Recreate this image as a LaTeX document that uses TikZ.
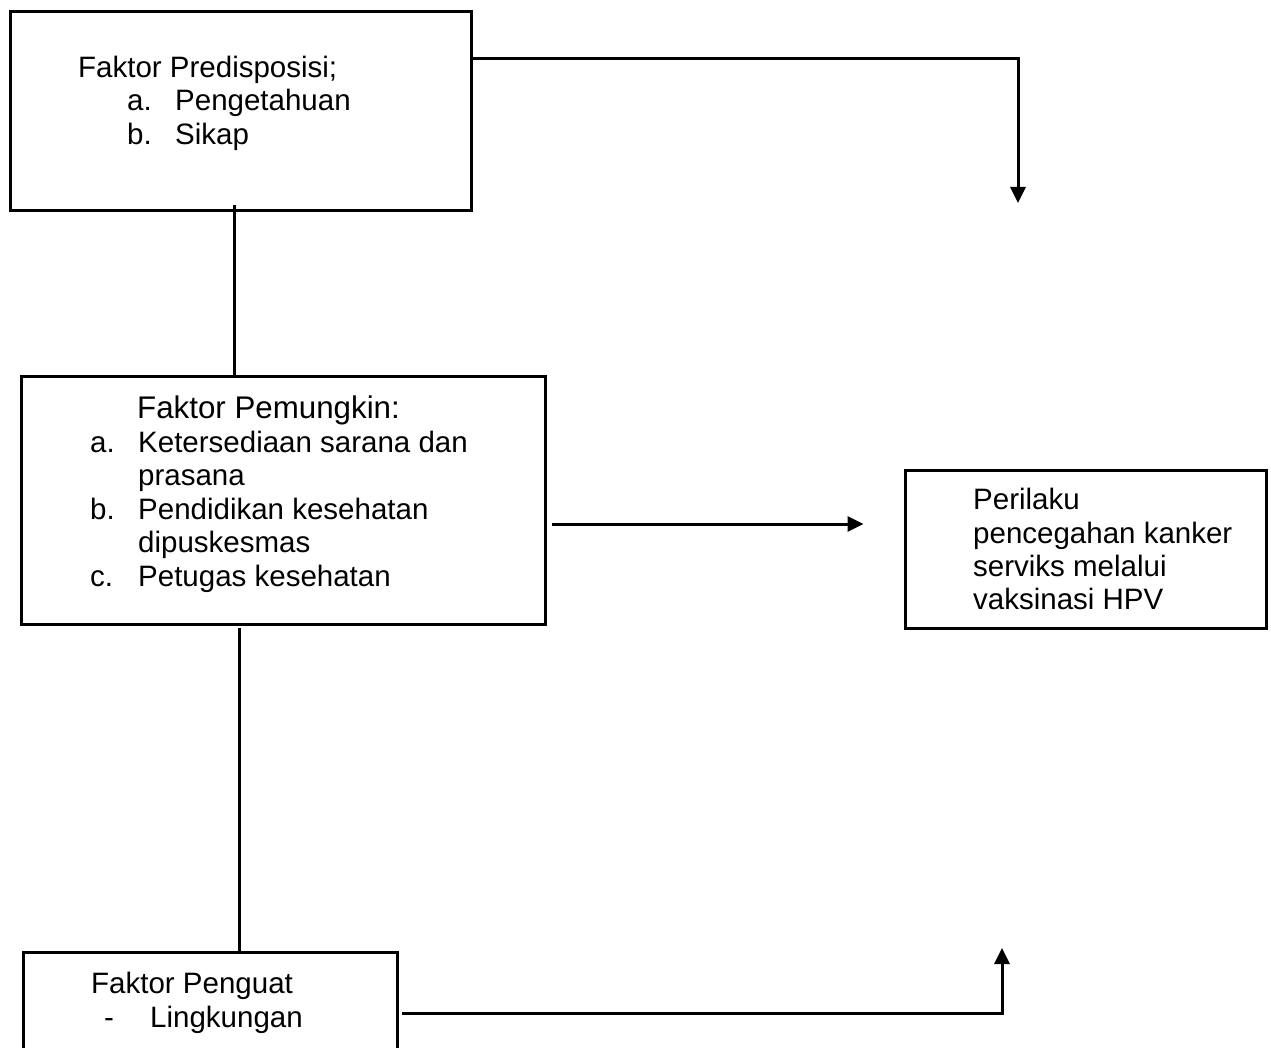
\documentclass[tikz,border=0pt]{standalone}
\usepackage{fontspec}
\setmainfont{Liberation Sans}
\usetikzlibrary{arrows.meta,calc}
\begin{document}
\begin{tikzpicture}[x=1pt,y=-1pt,
  box/.style={draw=black,line width=3pt,inner sep=0pt,minimum width=#1},
  txt/.style={inner sep=0pt,anchor=base west,font=\fontsize{29.5}{33.5}\selectfont},
  ttl/.style={inner sep=0pt,anchor=base west,font=\fontsize{31.3}{35}\selectfont},
  conn/.style={line width=3pt},
  arr/.style={line width=3pt,-{Triangle[length=16pt,width=15pt]}}]
\useasboundingbox (0,0) rectangle (1271,1048);
\clip (0,0) rectangle (1271,1048);
% boxes
\node[box=461pt,minimum height=199pt] (b1) at (240.5,111.5) {};
\node[box=524pt,minimum height=248pt] (b2) at (283,500) {};
\node[box=361pt,minimum height=158pt] (b3) at (1085.5,549.5) {};
\node[box=374pt,minimum height=130pt] (b4) at (210,1017) {};
% box 1 text
\node[txt] (t1) at (78,78) {Faktor Predisposisi;};
\node[txt] (t1a) at (127,111) {a.};
\node[txt] (t1at) at (175,111) {Pengetahuan};
\node[txt] (t1b) at (127,145) {b.};
\node[txt] (t1bt) at (175,145) {Sikap};
% box 2 text
\node[ttl] (t2) at (137,418) {Faktor Pemungkin:};
\node[txt] (t2a) at (90,452) {a.};
\node[txt] (t2at) at (138,452) {Ketersediaan sarana dan};
\node[txt] (t2at2) at (138,485) {prasana};
\node[txt] (t2b) at (90,519) {b.};
\node[txt] (t2bt) at (138,519) {Pendidikan kesehatan};
\node[txt] (t2bt2) at (138,552) {dipuskesmas};
\node[txt] (t2c) at (90,586) {c.};
\node[txt] (t2ct) at (138,586) {Petugas kesehatan};
% box 3 text
\node[txt] (t3a) at (973,509) {Perilaku};
\node[txt] (t3b) at (973,543) {pencegahan kanker};
\node[txt] (t3c) at (973,576) {serviks melalui};
\node[txt] (t3d) at (973,609) {vaksinasi HPV};
% box 4 text
\node[txt] (t4) at (91,993) {Faktor Penguat};
\node[txt] (t4a) at (104,1027) {-};
\node[txt] (t4at) at (150,1027) {Lingkungan};
% connectors
\coordinate (k1) at (1018,203);
\draw[arr] ($(b1.north east)+(0,48)$) -| (k1);
\coordinate (c1) at (234,205);
\draw[conn] (c1) -- (c1 |- b2.north);
\draw[arr] ($(b2.east)+(5,24)$) -- ($(b3.west)+(-40,-25.5)$);
\coordinate (c2) at (239,628);
\draw[conn] (c2) -- (c2 |- b4.north);
\coordinate (k2) at (1002,948);
\draw[arr] ($(b4.east)+(3,-4)$) -| (k2);
\end{tikzpicture}
\end{document}
